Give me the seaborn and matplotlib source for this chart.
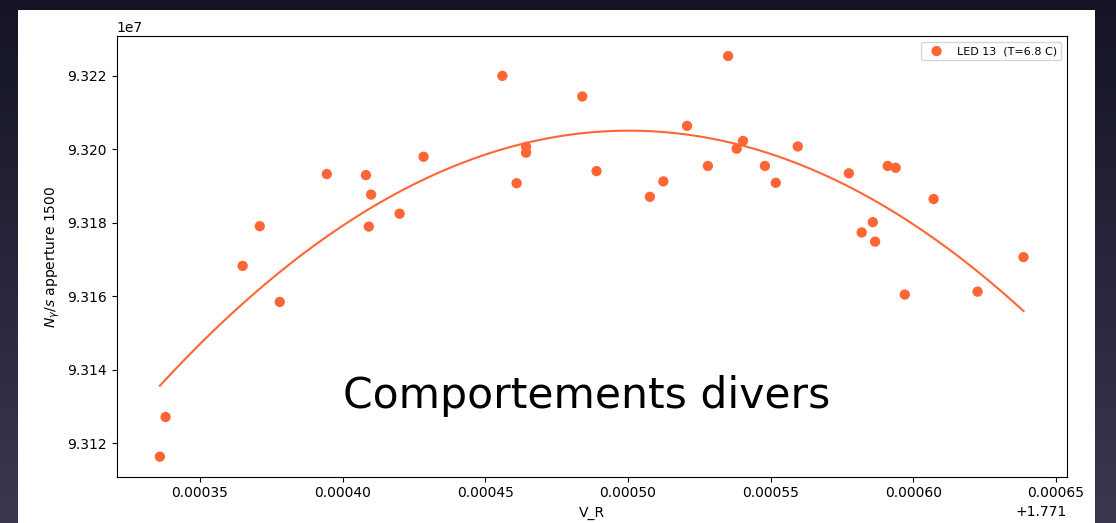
import numpy as np
import matplotlib
matplotlib.use("Agg")
import matplotlib.pyplot as plt
from matplotlib.patches import Rectangle
import seaborn as sns

# Measured photon rate versus V_R for LED 13
v_r = [1.771336, 1.771338, 1.771365, 1.771371, 1.771378, 1.7713945, 1.7714082,
       1.771410, 1.7714092, 1.771420, 1.7714284, 1.771456, 1.771461, 1.7714643,
       1.7714643, 1.771484, 1.771489, 1.7715077, 1.7715124, 1.7715207, 1.771528,
       1.7715351, 1.7715381, 1.7715403, 1.771548, 1.7715518, 1.7715595, 1.7715774,
       1.7715819, 1.7715858, 1.7715866, 1.771591, 1.7715938, 1.771597, 1.7716071,
       1.7716225, 1.7716386]
rate = [93116400, 93127200, 93168300, 93179100, 93158500, 93193300, 93193000,
        93187700, 93179000, 93182500, 93198000, 93220000, 93190800, 93200700,
        93199100, 93214400, 93194100, 93187100, 93191300, 93206400, 93195500,
        93225400, 93200200, 93202300, 93195500, 93190900, 93200800, 93193500,
        93177400, 93180200, 93174900, 93195500, 93195000, 93160500, 93186500,
        93161300, 93170700]

series_label = "LED 13  (T=6.8 C)"
overlay_text = "Comportements divers"
x_label = "V_R"
y_label = r"$N_{\gamma}/s$ apperture 1500"

color = "#ff6633"

W, H = 1116, 523
fig = plt.figure(figsize=(W / 100, H / 100), dpi=100)

# Dark slide background with a soft vertical gradient and a white panel
bg = fig.add_axes([0, 0, 1, 1], zorder=-5)
grad = np.linspace(0, 1, 256)[:, None]
top = np.array([20, 20, 38]) / 255
bottom = np.array([58, 55, 80]) / 255
img = top[None, None, :] * (1 - grad[..., None]) + bottom[None, None, :] * grad[..., None]
bg.imshow(img, extent=[0, 1, 0, 1], aspect="auto", origin="upper")
bg.add_patch(Rectangle((18 / W, 0), (1095 - 18) / W, (H - 10) / H,
                       facecolor="white", edgecolor="none"))
bg.set_xlim(0, 1)
bg.set_ylim(0, 1)
bg.axis("off")

ax = fig.add_axes([116.7 / W, (H - 476.7) / H, 950 / W, (476.7 - 36) / H])

x = np.array(v_r)
y = np.array(rate, dtype=float)

# Quadratic fit of the measurements
x0 = 1.771
coef = np.polyfit(x - x0, y, 2)
xf = np.linspace(x.min(), x.max(), 200)
yf = np.polyval(coef, xf - x0)

sns.lineplot(x=xf, y=yf, color=color, linewidth=1.5, ax=ax)
sns.scatterplot(x=x, y=y, color=color, s=55, edgecolor="none",
                label=series_label, ax=ax, zorder=3)

ax.set_xlabel(x_label, fontsize=10)
ax.set_ylabel(y_label, fontsize=10)
ax.tick_params(labelsize=10)
ax.legend(loc="upper right", fontsize=8)
ax.margins(0.05)

fig.text(586.5 / W, (H - 407.6) / H, overlay_text, ha="center", va="baseline",
         fontsize=30.6, color="black", family="DejaVu Sans", zorder=10)

fig.savefig("out.png", dpi=100)
